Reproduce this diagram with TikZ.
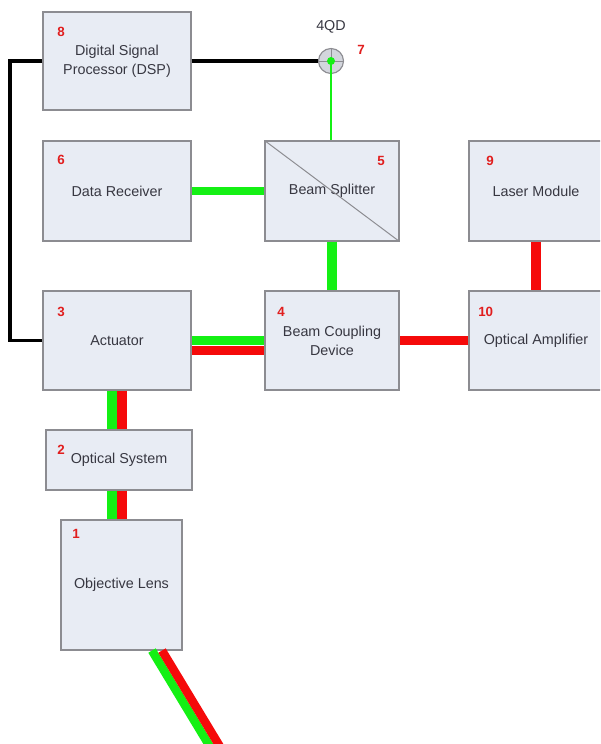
\documentclass[tikz,border=0pt]{standalone}
\usepackage{fontspec}
\setmainfont{Liberation Sans}
\usepackage{xcolor}

\newcommand{\pxlen}{0.025cm}
\definecolor{boxfill}{RGB}{232,236,244}
\definecolor{boxline}{RGB}{140,140,145}
\definecolor{textgray}{RGB}{55,55,65}
\definecolor{beamgreen}{RGB}{20,240,20}
\definecolor{beamred}{RGB}{245,10,10}
\definecolor{numred}{RGB}{225,30,30}

\tikzset{
  blockbox/.style={draw=boxline, fill=boxfill, line width=0.8pt, align=center,
    text=textgray, font=\fontsize{10.2}{13.5}\selectfont, inner sep=0pt},
  numtag/.style={anchor=west, text=numred, font=\fontsize{9.5}{10}\selectfont\bfseries, inner sep=0pt},
  ctrl/.style={line width=2.8pt, black},
  gbeam/.style={line width=7.1pt, beamgreen},
  rbeam/.style={line width=7.1pt, beamred},
  probe/.style={line width=1.4pt, beamgreen},
}

% name, cx, cy, width, height, tag x, tag y, tag, text
\newcommand{\unitbox}[9]{
  \node[blockbox, minimum width=#4*\pxlen, minimum height=#5*\pxlen] (#1) at (#2, #3) {#9};
  \node[numtag] (#1tag) at (#6, #7) {#8};
}

\begin{document}
\begin{tikzpicture}[x=0.025cm, y=-0.025cm]
\useasboundingbox (0,0) rectangle (600,744);
\clip (0,0) rectangle (600,744);

\unitbox{dsp}{117}{61}{148}{98}{57}{32}{8}{Digital Signal\\Processor (DSP)}
\unitbox{rcv}{117}{191}{148}{100}{57}{160}{6}{Data Receiver}
\unitbox{bs}{332}{191}{134}{100}{377}{161}{5}{Beam Splitter}
\unitbox{laser}{536}{191}{134}{100}{486}{161}{9}{Laser Module}
\unitbox{act}{117}{340.5}{148}{99}{57}{312}{3}{Actuator}
\unitbox{bcd}{332}{340.5}{134}{99}{277}{312}{4}{Beam Coupling\\Device}
\unitbox{amp}{536}{340.5}{134}{99}{478}{312}{10}{Optical Amplifier}
\unitbox{opt}{119}{460}{146}{60}{57}{450}{2}{Optical System}
\unitbox{obj}{121.5}{585}{121}{130}{72}{534}{1}{Objective Lens}

\draw[boxline, line width=0.7pt] (bs.north west) -- (bs.south east);

% quadrant detector
\node[circle, draw=boxline, fill=boxfill!80!gray, line width=0.8pt,
  minimum size=25*\pxlen, inner sep=0pt] (qd) at (331,61) {};
\draw[boxline, line width=0.6pt] (qd.north) -- (qd.south) (qd.west) -- (qd.east);
\node[text=textgray, font=\fontsize{10.2}{12}\selectfont] (qdname) at (331,27) {4QD};
\node[numtag] (qdtag) at (357,50) {7};

% control lines
\coordinate (bus) at (10,200);
\draw[ctrl] (dsp.west) -| (bus) |- (act.west);
\draw[ctrl] (dsp.east) -- (qd.west);

% beams
\draw[probe] (qd.center) -- (qd.center |- bs.north);
\node[circle, fill=beamgreen, minimum size=8*\pxlen, inner sep=0pt] (qdspot) at (qd.center) {};
\draw[gbeam, line width=5.7pt] (rcv.east) -- (bs.west);
\draw[gbeam] (bs.south) -- (bcd.north);
\draw[rbeam] (laser.south) -- (amp.north);
\draw[rbeam] (amp.west) -- (bcd.east);
\draw[gbeam] (act.east) -- (bcd.west);
\draw[rbeam] ([yshift=-10*\pxlen]act.east) -- ([yshift=-10*\pxlen]bcd.west);

\draw[gbeam] ([xshift=-5*\pxlen]act.south) -- ([xshift=-5*\pxlen]act.south |- opt.north);
\draw[rbeam] ([xshift=5*\pxlen]act.south) -- ([xshift=5*\pxlen]act.south |- opt.north);
\draw[gbeam] ([xshift=-5*\pxlen]act.south |- opt.south) -- ([xshift=-5*\pxlen]act.south |- obj.north);
\draw[rbeam] ([xshift=5*\pxlen]act.south |- opt.south) -- ([xshift=5*\pxlen]act.south |- obj.north);

\coordinate (gout) at (212,750);
\coordinate (rout) at (222,750);
\draw[gbeam, line width=6.1pt] ([xshift=30.5*\pxlen]obj.south) -- (gout);
\draw[rbeam, line width=6.1pt] ([xshift=40.5*\pxlen]obj.south) -- (rout);

\end{tikzpicture}
\end{document}
